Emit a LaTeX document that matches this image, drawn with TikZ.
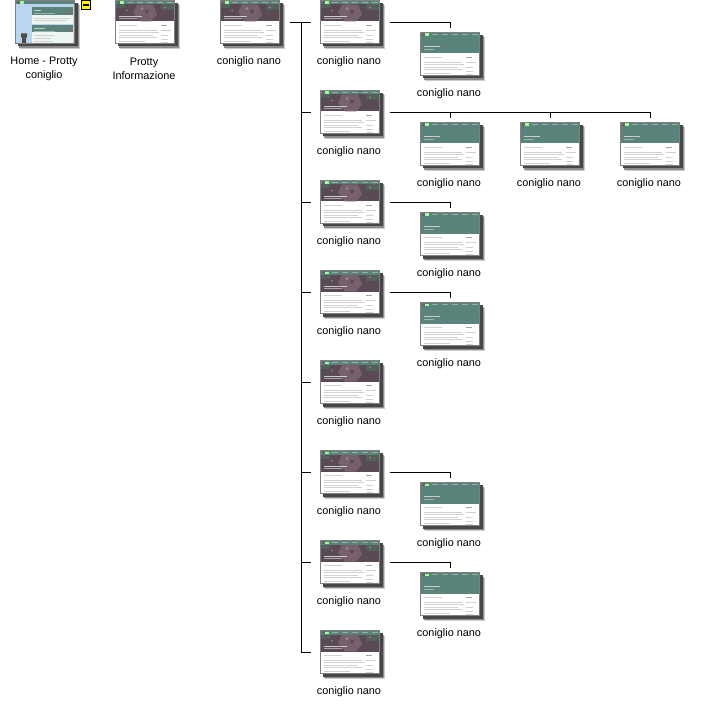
\documentclass[tikz,border=0pt]{standalone}
\usepackage{fontspec}
\setmainfont{Liberation Sans}
\definecolor{hdrgreen}{HTML}{5A837C}
\definecolor{bargreen}{HTML}{5A837C}
\definecolor{photo}{HTML}{5A4A56}
\definecolor{photob}{HTML}{75606C}
\definecolor{photoc}{HTML}{56605A}
\definecolor{homeblue}{HTML}{B9D6EE}
\definecolor{homepale}{HTML}{EEF6F2}
\definecolor{thumbedge}{HTML}{808080}
\tikzset{
  x=0.75pt, y=-0.75pt,
  conn/.style={draw=black, line width=0.75pt},
  thumbbox/.style={draw=thumbedge, line width=0.75pt, minimum width=44.6pt, minimum height=32.4pt, inner sep=0pt, outer sep=0pt},
  lbl/.style={font=\fontsize{8.15pt}{10.5pt}\selectfont, align=center, inner sep=0pt, text=black},
  txtline/.style={draw=black!18, line width=0.35pt},
  txtdark/.style={draw=black!35, line width=0.35pt},
  txtwhite/.style={draw=white!80!black, line width=0.55pt}
}
\newcommand{\shadowbox}{%
  \fill[black!20] (5,5) rectangle (65,48.5);
  \fill[black!45] (4,4) rectangle (64,47.5);
  \fill[black!72] (2.5,2.5) rectangle (62.5,46);
}
\newcommand{\bodylines}{%
  \fill[white] (0,0) rectangle (60,43.5);
  \fill[bargreen] (0,0) rectangle (60,4);
  \fill[black!60] (2,0.5) rectangle (4.5,3.5);
  \fill[white!60!green] (5,1) rectangle (9,3.2);
  \foreach \q in {12,22,32,42,52}{\draw[white!35!bargreen,line width=0.3pt] (\q,2) -- (\q+6,2);}
  \draw[txtline] (4,25) -- (22,25);
  \draw[txtline] (4,29.5) -- (42,29.5);
  \draw[txtline] (4,31.5) -- (44,31.5);
  \draw[txtline] (4,35) -- (38,35);
  \draw[txtline] (4,37) -- (42,37);
  \draw[txtline] (4,40.5) -- (30,40.5);
  \draw[txtdark] (46,24.5) -- (52,24.5);
  \draw[txtline] (46,30) -- (56,30);
  \draw[txtline] (46,35) -- (53,35);
  \draw[txtline] (46,38.5) -- (53,38.5);
  \draw[txtline] (46,42) -- (53,42);
}
\newcommand{\kindphoto}{%
  \bodylines
  \fill[photo] (0,4) rectangle (60,21);
  \fill[photob] (22,4) -- (38,4) -- (42,14) -- (36,21) -- (25,21) -- (18,12) -- cycle;
  \fill[photoc] (46,4) rectangle (60,10);
  \fill[photoc] (0,4) rectangle (10,8);
  \fill[photob!75!white] (27,8) circle (1.5);
  \fill[photo] (32,11) circle (2);
  \fill[photob!80!white] (50,7) circle (1.2);
  \fill[photob!80!white] (12,10) circle (1);
  \draw[txtwhite] (4,15.5) -- (27,15.5);
  \draw[white!50!photo,line width=0.3pt] (4,18) -- (22,18);
}
\newcommand{\kindgreen}{%
  \bodylines
  \fill[hdrgreen] (0,4) rectangle (60,21);
  \draw[txtwhite] (4,14) -- (20,14);
  \draw[white!40!hdrgreen,line width=0.3pt] (4,17) -- (14,17);
}
\newcommand{\kindhome}{%
  \fill[homeblue] (0,0) rectangle (60,43.5);
  \fill[bargreen] (0,0) rectangle (60,4);
  \fill[black!60] (2,0.5) rectangle (4.5,3.5);
  \fill[white!60!green] (5,1) rectangle (9,3.2);
  \fill[homepale] (17,7) rectangle (58,24);
  \fill[hdrgreen] (17,7) rectangle (58,15);
  \draw[white!60!hdrgreen,line width=0.4pt] (19,10) -- (26,10);
  \draw[white!40!hdrgreen,line width=0.3pt] (19,13) -- (40,13);
  \fill[black!55] (53,10) rectangle (56,15);
  \draw[txtline] (19,18) -- (56,18);
  \draw[txtline] (19,20) -- (52,20);
  \fill[homepale] (17,25) rectangle (58,43.5);
  \fill[hdrgreen] (17,25) rectangle (58,32);
  \draw[white!60!hdrgreen,line width=0.4pt] (19,27.5) -- (30,27.5);
  \draw[white!40!hdrgreen,line width=0.3pt] (19,30.5) -- (40,30.5);
  \fill[black!55] (53,27) rectangle (56,32);
  \draw[txtline] (19,35) -- (40,35);
  \draw[txtline] (19,38) -- (36,38);
  \draw[txtline] (19,41) -- (38,41);
  \fill[black!70] (6,33) rectangle (12,37) (7,37) rectangle (11,43.5);
}
\newcommand{\thumb}[4]{%
  \begin{scope}[shift={(#2,#3+0.5)}]
    \shadowbox
    #4
  \end{scope}
  \node[thumbbox] (#1) at (#2+30,#3+22.25) {};
}
\begin{document}
\begin{tikzpicture}
\useasboundingbox (0,0) rectangle (700,720);
\clip (0,0) rectangle (700,720);
\fill[white] (0,0) rectangle (700,720);
% top level
\thumb{home}{15}{0}{\kindhome}
\thumb{info}{115}{0}{\kindphoto}
\thumb{main}{220}{0}{\kindphoto}
\node[lbl] (homel) at (44,68.5) {Home - Protty\\coniglio};
\node[lbl] (infol) at (144,68.5) {Protty\\Informazione};
\node[lbl] (mainl) at (249,61.5) {coniglio nano};
\node[draw=black, fill=yellow, line width=0.75pt, minimum width=7pt, minimum height=7pt, inner sep=0pt, outer sep=0pt] (minus) at (86,5) {};
\fill[black] (83,4) rectangle (89,6.5);
% first column
\foreach \k/\yy in {0/0,1/90,2/180,3/270,4/360,5/450,6/540,7/630}{
  \thumb{r\k}{320}{\yy}{\kindphoto}
  \node[lbl] (rl\k) at (349,\yy+61.5) {coniglio nano};
}
% children
\foreach \n/\xx/\yy in {c0/420/32,ca/420/122,cb/520/122,cc/620/122,c2/420/212,c3/420/302,c5/420/482,c6/420/572}{
  \thumb{\n}{\xx}{\yy}{\kindgreen}
  \node[lbl] (l\n) at (\xx+29,\yy+61.5) {coniglio nano};
}
% trunk
\coordinate (tstart) at ([xshift=7.5pt]main.east);
\coordinate (ttop) at ([xshift=-6.75pt]r0.west);
\coordinate (trunk) at (301,22.25);
\draw[conn] (tstart) -- (ttop);
\draw[conn] (trunk) -- (trunk |- r7.west) -- ([xshift=-6.75pt]r7.west);
\foreach \k in {1,...,6}{
  \draw[conn] (trunk |- r\k.west) -- ([xshift=-6.75pt]r\k.west);
}
% child connectors
\foreach \k/\c in {0/c0,2/c2,3/c3,5/c5,6/c6}{
  \draw[conn] ([xshift=7.5pt]r\k.east) -| ([yshift=3.75pt]\c.north);
}
\draw[conn] ([xshift=7.5pt]r1.east) -| ([yshift=3.75pt]cc.north);
\draw[conn] ([yshift=3.75pt]ca.north) -- (ca.north |- r1.east);
\draw[conn] ([yshift=3.75pt]cb.north) -- (cb.north |- r1.east);
\end{tikzpicture}
\end{document}
